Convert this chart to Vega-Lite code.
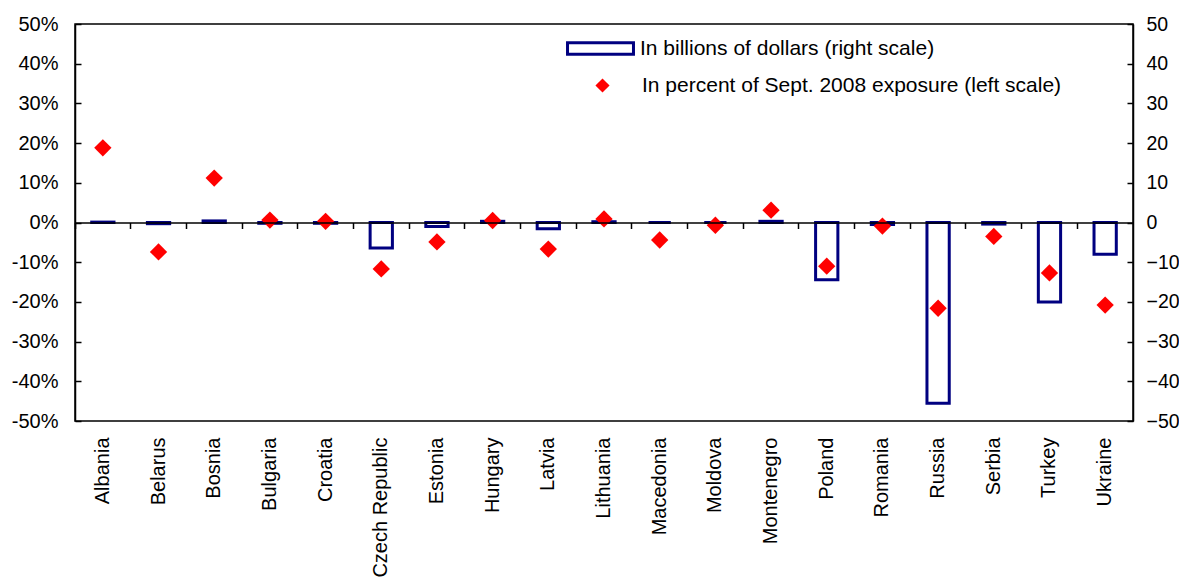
{
  "$schema": "https://vega.github.io/schema/vega-lite/v6.json",
  "autosize": "none",
  "width": 1058,
  "height": 397,
  "padding": {"left": 75, "top": 24, "right": 46, "bottom": 159},
  "background": "white",
  "data": {
    "values": [
      {"country": "Albania", "pct": 18.8, "bn": 0.1},
      {"country": "Belarus", "pct": -7.4, "bn": -0.3},
      {"country": "Bosnia", "pct": 11.2, "bn": 0.4},
      {"country": "Bulgaria", "pct": 0.6, "bn": -0.2},
      {"country": "Croatia", "pct": 0.3, "bn": -0.2},
      {"country": "Czech Republic", "pct": -11.7, "bn": -6.4},
      {"country": "Estonia", "pct": -4.9, "bn": -1.0},
      {"country": "Hungary", "pct": 0.5, "bn": 0.3},
      {"country": "Latvia", "pct": -6.7, "bn": -1.6},
      {"country": "Lithuania", "pct": 0.9, "bn": 0.2},
      {"country": "Macedonia", "pct": -4.4, "bn": 0.0},
      {"country": "Moldova", "pct": -0.7, "bn": 0.0},
      {"country": "Montenegro", "pct": 3.1, "bn": 0.3},
      {"country": "Poland", "pct": -11.0, "bn": -14.4},
      {"country": "Romania", "pct": -0.9, "bn": -0.5},
      {"country": "Russia", "pct": -21.6, "bn": -45.5},
      {"country": "Serbia", "pct": -3.5, "bn": -0.4},
      {"country": "Turkey", "pct": -12.7, "bn": -20.0},
      {"country": "Ukraine", "pct": -20.8, "bn": -8.0}
    ]
  },
  "layer": [
    {
      "mark": {"type": "bar", "fill": "white", "strokeWidth": 3, "width": {"band": 0.4}},
      "encoding": {
        "x": {
          "field": "country",
          "type": "nominal",
          "sort": null,
          "scale": {"paddingInner": 0, "paddingOuter": 0},
          "axis": {
            "orient": "bottom",
            "offset": -198.5,
            "labels": false,
            "title": null,
            "bandPosition": 0,
            "tickSize": 6,
            "tickColor": "black",
            "domainColor": "black",
            "zindex": 1
          }
        },
        "y": {
          "field": "bn",
          "type": "quantitative",
          "scale": {"domain": [-50, 50], "nice": false},
          "axis": {
            "orient": "right",
            "title": null,
            "values": [-50, -40, -30, -20, -10, 0, 10, 20, 30, 40, 50],
            "tickSize": -6,
            "labelPadding": 19,
            "labelFontSize": 19.5,
            "grid": false
          }
        },
        "stroke": {
          "datum": "In billions of dollars (right scale)",
          "scale": {"range": ["#000080"]},
          "legend": {
            "orient": "none",
            "legendX": 490,
            "legendY": -11,
            "title": null,
            "symbolType": "M-0.97,-0.17H0.97V0.17H-0.97Z",
            "symbolSize": 4624,
            "symbolStrokeWidth": 3,
            "symbolFillColor": "white",
            "labelOffset": 4
          }
        }
      }
    },
    {
      "mark": {"type": "point", "shape": "diamond", "filled": true, "size": 300, "opacity": 1},
      "encoding": {
        "x": {
          "field": "country",
          "type": "nominal",
          "sort": null,
          "axis": {
            "orient": "bottom",
            "title": null,
            "labelAngle": -90,
            "labelAlign": "right",
            "labelBaseline": "middle",
            "ticks": false,
            "domain": false,
            "labelPadding": 16
          }
        },
        "y": {
          "field": "pct",
          "type": "quantitative",
          "scale": {"domain": [-50, 50], "nice": false},
          "axis": {
            "orient": "left",
            "title": null,
            "values": [-50, -40, -30, -20, -10, 0, 10, 20, 30, 40, 50],
            "labelExpr": "datum.value + '%'",
            "tickSize": -6,
            "labelPadding": 23,
            "grid": false
          }
        },
        "fill": {
          "datum": "In percent of Sept. 2008 exposure (left scale)",
          "scale": {"range": ["#ff0000"]},
          "legend": {
            "orient": "none",
            "legendX": 517,
            "legendY": 51,
            "title": null,
            "symbolType": "diamond",
            "symbolSize": 200,
            "labelOffset": 29
          }
        }
      }
    }
  ],
  "resolve": {
    "scale": {"y": "independent", "stroke": "independent", "fill": "independent"},
    "axis": {"x": "independent"}
  },
  "config": {
    "font": "Liberation Sans",
    "view": {"stroke": "black", "strokeWidth": 1.5},
    "axis": {
      "labelFont": "Liberation Sans",
      "labelFontSize": 20,
      "labelColor": "black",
      "domainColor": "black",
      "domainWidth": 1.5,
      "tickColor": "black",
      "tickWidth": 1.5
    },
    "legend": {
      "labelFont": "Liberation Sans",
      "labelFontSize": 21,
      "labelColor": "black",
      "padding": 0,
      "labelLimit": 0
    }
  }
}
